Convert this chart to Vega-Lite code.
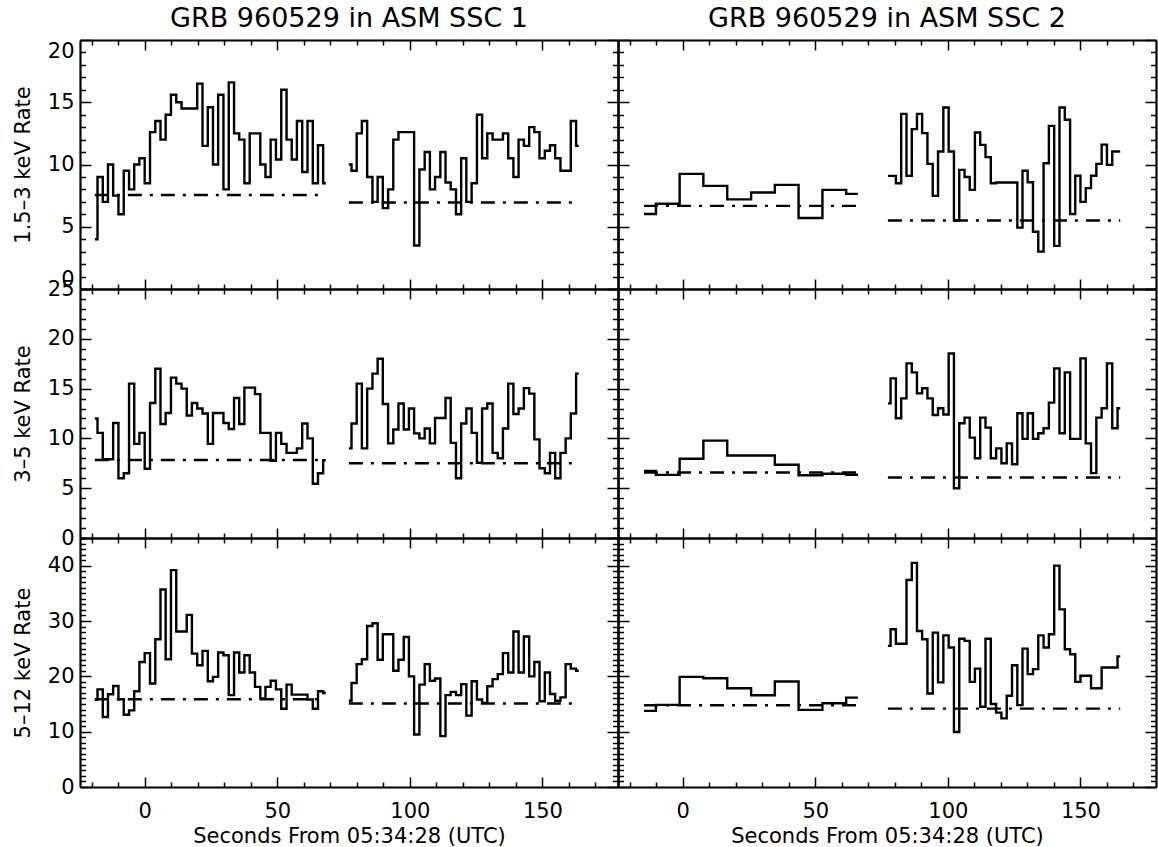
{
"$schema": "https://vega.github.io/schema/vega-lite/v6.json",
"padding": {"left": 11, "top": 5, "right": 2, "bottom": 2},
"background": "white",
"columns": 2,
"spacing": 0,
"bounds": "flush",
"config": {
 "view": {"stroke": null},
 "font": "DejaVu Sans",
 "axis": {"grid": false, "domainColor": "black", "domainWidth": 2.2, "tickColor": "black", "tickWidth": 1.5, "labelFont": "DejaVu Sans", "labelFontSize": 21, "labelColor": "black", "titleFont": "DejaVu Sans", "titleFontSize": 21, "titleFontWeight": "normal", "titleColor": "black", "labelOverlap": false, "labelFlush": false},
 "title": {"font": "DejaVu Sans", "fontSize": 27, "fontWeight": "normal", "color": "black", "offset": 6, "anchor": "middle"},
 "line": {"color": "black", "strokeWidth": 2.4}
},
"datasets": {
"L1": [{"s":1,"t":-18.8,"v":4},{"s":1,"t":-16.8,"v":9},{"s":1,"t":-14.8,"v":7},{"s":1,"t":-12.9,"v":10},{"s":1,"t":-10.9,"v":7.5},{"s":1,"t":-8.9,"v":6},{"s":1,"t":-6.9,"v":9.5},{"s":1,"t":-4.9,"v":8},{"s":1,"t":-3,"v":10},{"s":1,"t":-1,"v":10.5},{"s":1,"t":1,"v":8.5},{"s":1,"t":3,"v":12.6},{"s":1,"t":5,"v":13.5},{"s":1,"t":6.9,"v":12},{"s":1,"t":8.9,"v":14},{"s":1,"t":10.9,"v":15.6},{"s":1,"t":12.9,"v":15},{"s":1,"t":14.9,"v":14.5},{"s":1,"t":16.8,"v":14.5},{"s":1,"t":18.8,"v":14.5},{"s":1,"t":20.8,"v":16.5},{"s":1,"t":22.8,"v":11.5},{"s":1,"t":24.8,"v":14.6},{"s":1,"t":26.7,"v":10},{"s":1,"t":28.7,"v":15.6},{"s":1,"t":30.7,"v":8},{"s":1,"t":32.7,"v":16.6},{"s":1,"t":34.7,"v":12.5},{"s":1,"t":36.6,"v":12},{"s":1,"t":38.6,"v":8.5},{"s":1,"t":40.6,"v":12.5},{"s":1,"t":42.6,"v":12.5},{"s":1,"t":44.6,"v":10},{"s":1,"t":46.5,"v":9},{"s":1,"t":48.5,"v":12},{"s":1,"t":50.5,"v":10.4},{"s":1,"t":52.5,"v":16},{"s":1,"t":54.5,"v":12},{"s":1,"t":56.4,"v":10.4},{"s":1,"t":58.4,"v":13.5},{"s":1,"t":60.4,"v":9.4},{"s":1,"t":62.4,"v":13.5},{"s":1,"t":64.4,"v":8.5},{"s":1,"t":66.3,"v":11.55},{"s":1,"t":68.3,"v":8.5},
{"s":2,"t":77,"v":10},{"s":2,"t":79,"v":9.5},{"s":2,"t":80.9,"v":12.5},{"s":2,"t":82.9,"v":13.5},{"s":2,"t":84.9,"v":9},{"s":2,"t":86.9,"v":7},{"s":2,"t":88.8,"v":9},{"s":2,"t":90.8,"v":6.5},{"s":2,"t":92.8,"v":8},{"s":2,"t":94.7,"v":12},{"s":2,"t":96.7,"v":12.6},{"s":2,"t":98.7,"v":12.6},{"s":2,"t":100.6,"v":12.6},{"s":2,"t":102.6,"v":3.5},{"s":2,"t":104.6,"v":9.6},{"s":2,"t":106.6,"v":11},{"s":2,"t":108.5,"v":8},{"s":2,"t":110.5,"v":9},{"s":2,"t":112.5,"v":11},{"s":2,"t":114.4,"v":8.55},{"s":2,"t":116.4,"v":8},{"s":2,"t":118.4,"v":6},{"s":2,"t":120.3,"v":10.5},{"s":2,"t":122.3,"v":7},{"s":2,"t":124.3,"v":8.5},{"s":2,"t":126.3,"v":14},{"s":2,"t":128.2,"v":10.5},{"s":2,"t":130.2,"v":12.5},{"s":2,"t":132.2,"v":12},{"s":2,"t":134.1,"v":12},{"s":2,"t":136.1,"v":12.5},{"s":2,"t":138.1,"v":10.5},{"s":2,"t":140,"v":9},{"s":2,"t":142,"v":12},{"s":2,"t":144,"v":11.5},{"s":2,"t":146,"v":13},{"s":2,"t":147.9,"v":12.6},{"s":2,"t":149.9,"v":10.5},{"s":2,"t":151.9,"v":11.1},{"s":2,"t":153.8,"v":11.55},{"s":2,"t":155.8,"v":10.5},{"s":2,"t":157.8,"v":9.5},{"s":2,"t":159.7,"v":9.5},{"s":2,"t":161.7,"v":13.5},{"s":2,"t":163.7,"v":11.5}],
"L2": [{"s":1,"t":-18.8,"v":12},{"s":1,"t":-16.8,"v":10.55},{"s":1,"t":-14.8,"v":7.9},{"s":1,"t":-12.9,"v":7.9},{"s":1,"t":-10.9,"v":11.55},{"s":1,"t":-8.9,"v":6},{"s":1,"t":-6.9,"v":6.5},{"s":1,"t":-4.9,"v":15.5},{"s":1,"t":-3,"v":9.45},{"s":1,"t":-1,"v":10.55},{"s":1,"t":1,"v":6.95},{"s":1,"t":3,"v":13.55},{"s":1,"t":5,"v":17},{"s":1,"t":6.9,"v":11.45},{"s":1,"t":8.9,"v":12.55},{"s":1,"t":10.9,"v":16.1},{"s":1,"t":12.9,"v":15.5},{"s":1,"t":14.9,"v":15},{"s":1,"t":16.8,"v":12.3},{"s":1,"t":18.8,"v":13.55},{"s":1,"t":20.8,"v":13},{"s":1,"t":22.8,"v":12.5},{"s":1,"t":24.8,"v":9.45},{"s":1,"t":26.7,"v":12.55},{"s":1,"t":28.7,"v":12.55},{"s":1,"t":30.7,"v":11.55},{"s":1,"t":32.7,"v":10.95},{"s":1,"t":34.7,"v":14.05},{"s":1,"t":36.6,"v":11.45},{"s":1,"t":38.6,"v":15.1},{"s":1,"t":40.6,"v":15.1},{"s":1,"t":42.6,"v":14.45},{"s":1,"t":44.6,"v":10.55},{"s":1,"t":46.5,"v":10.55},{"s":1,"t":48.5,"v":7.75},{"s":1,"t":50.5,"v":10.55},{"s":1,"t":52.5,"v":9.45},{"s":1,"t":54.5,"v":8.55},{"s":1,"t":56.4,"v":8.55},{"s":1,"t":58.4,"v":9},{"s":1,"t":60.4,"v":11.5},{"s":1,"t":62.4,"v":10},{"s":1,"t":64.4,"v":5.45},{"s":1,"t":66.3,"v":6.5},{"s":1,"t":68.3,"v":7.8},
{"s":2,"t":77,"v":9},{"s":2,"t":79,"v":11.5},{"s":2,"t":80.9,"v":15.5},{"s":2,"t":82.9,"v":9},{"s":2,"t":84.9,"v":15},{"s":2,"t":86.9,"v":16.5},{"s":2,"t":88.8,"v":18},{"s":2,"t":90.8,"v":13.45},{"s":2,"t":92.8,"v":9.5},{"s":2,"t":94.7,"v":10.9},{"s":2,"t":96.7,"v":13.5},{"s":2,"t":98.7,"v":10.9},{"s":2,"t":100.6,"v":13},{"s":2,"t":102.6,"v":10.5},{"s":2,"t":104.6,"v":10},{"s":2,"t":106.6,"v":11},{"s":2,"t":108.5,"v":9.5},{"s":2,"t":110.5,"v":12.05},{"s":2,"t":112.5,"v":12.05},{"s":2,"t":114.4,"v":14.05},{"s":2,"t":116.4,"v":9.55},{"s":2,"t":118.4,"v":6},{"s":2,"t":120.3,"v":11.5},{"s":2,"t":122.3,"v":13},{"s":2,"t":124.3,"v":10.55},{"s":2,"t":126.3,"v":7.55},{"s":2,"t":128.2,"v":13},{"s":2,"t":130.2,"v":13.5},{"s":2,"t":132.2,"v":8.55},{"s":2,"t":134.1,"v":8},{"s":2,"t":136.1,"v":11},{"s":2,"t":138.1,"v":15.5},{"s":2,"t":140,"v":12.45},{"s":2,"t":142,"v":13},{"s":2,"t":144,"v":15.05},{"s":2,"t":146,"v":14.5},{"s":2,"t":147.9,"v":9.9},{"s":2,"t":149.9,"v":7},{"s":2,"t":151.9,"v":6.5},{"s":2,"t":153.8,"v":8.55},{"s":2,"t":155.8,"v":6},{"s":2,"t":157.8,"v":8.55},{"s":2,"t":159.7,"v":10},{"s":2,"t":161.7,"v":12.5},{"s":2,"t":163.7,"v":16.5}],
"L3": [{"s":1,"t":-18.8,"v":15.8},{"s":1,"t":-16.8,"v":17.65},{"s":1,"t":-14.8,"v":12.65},{"s":1,"t":-12.9,"v":16.75},{"s":1,"t":-10.9,"v":18.25},{"s":1,"t":-8.9,"v":15.85},{"s":1,"t":-6.9,"v":13.05},{"s":1,"t":-4.9,"v":13.85},{"s":1,"t":-3,"v":17.3},{"s":1,"t":-1,"v":22.6},{"s":1,"t":1,"v":24.2},{"s":1,"t":3,"v":18.7},{"s":1,"t":5,"v":26.7},{"s":1,"t":6.9,"v":35.7},{"s":1,"t":8.9,"v":23.1},{"s":1,"t":10.9,"v":39.2},{"s":1,"t":12.9,"v":28.1},{"s":1,"t":14.9,"v":28.1},{"s":1,"t":16.8,"v":31.1},{"s":1,"t":18.8,"v":24.1},{"s":1,"t":20.8,"v":22},{"s":1,"t":22.8,"v":24.6},{"s":1,"t":24.8,"v":19.1},{"s":1,"t":26.7,"v":19.9},{"s":1,"t":28.7,"v":24.3},{"s":1,"t":30.7,"v":23.8},{"s":1,"t":32.7,"v":16.6},{"s":1,"t":34.7,"v":24.3},{"s":1,"t":36.6,"v":20.7},{"s":1,"t":38.6,"v":23.8},{"s":1,"t":40.6,"v":20.7},{"s":1,"t":42.6,"v":18.1},{"s":1,"t":44.6,"v":16},{"s":1,"t":46.5,"v":18.1},{"s":1,"t":48.5,"v":19.2},{"s":1,"t":50.5,"v":17.65},{"s":1,"t":52.5,"v":14.15},{"s":1,"t":54.5,"v":18.5},{"s":1,"t":56.4,"v":16.7},{"s":1,"t":58.4,"v":16.7},{"s":1,"t":60.4,"v":16.7},{"s":1,"t":62.4,"v":15.8},{"s":1,"t":64.4,"v":14.15},{"s":1,"t":66.3,"v":17.3},{"s":1,"t":68.3,"v":17},
{"s":2,"t":77,"v":15.6},{"s":2,"t":79,"v":18.8},{"s":2,"t":80.9,"v":22.2},{"s":2,"t":82.9,"v":23.1},{"s":2,"t":84.9,"v":29.1},{"s":2,"t":86.9,"v":29.6},{"s":2,"t":88.8,"v":23},{"s":2,"t":90.8,"v":27.6},{"s":2,"t":92.8,"v":27.6},{"s":2,"t":94.7,"v":21},{"s":2,"t":96.7,"v":23},{"s":2,"t":98.7,"v":27.1},{"s":2,"t":100.6,"v":20},{"s":2,"t":102.6,"v":9.5},{"s":2,"t":104.6,"v":18.5},{"s":2,"t":106.6,"v":22.2},{"s":2,"t":108.5,"v":19.2},{"s":2,"t":110.5,"v":19.6},{"s":2,"t":112.5,"v":9.2},{"s":2,"t":114.4,"v":16.6},{"s":2,"t":116.4,"v":17.2},{"s":2,"t":118.4,"v":16.6},{"s":2,"t":120.3,"v":18.6},{"s":2,"t":122.3,"v":12.9},{"s":2,"t":124.3,"v":19.1},{"s":2,"t":126.3,"v":15.8},{"s":2,"t":128.2,"v":15.2},{"s":2,"t":130.2,"v":18.2},{"s":2,"t":132.2,"v":19.5},{"s":2,"t":134.1,"v":20.4},{"s":2,"t":136.1,"v":24.2},{"s":2,"t":138.1,"v":20.7},{"s":2,"t":140,"v":28.1},{"s":2,"t":142,"v":20.7},{"s":2,"t":144,"v":27.2},{"s":2,"t":146,"v":20},{"s":2,"t":147.9,"v":22.6},{"s":2,"t":149.9,"v":15.5},{"s":2,"t":151.9,"v":20.7},{"s":2,"t":153.8,"v":16.8},{"s":2,"t":155.8,"v":15.6},{"s":2,"t":157.8,"v":16.2},{"s":2,"t":159.7,"v":22.2},{"s":2,"t":161.7,"v":21.4},{"s":2,"t":163.7,"v":21}],
"R1": [{"s":1,"t":-14.6,"v":6.03},{"s":1,"t":-5.6,"v":6.85},{"s":1,"t":3.3,"v":9.25},{"s":1,"t":12.3,"v":8.28},{"s":1,"t":21.3,"v":7.2},{"s":1,"t":30.3,"v":7.75},{"s":1,"t":39.2,"v":8.36},{"s":1,"t":48.2,"v":5.7},{"s":1,"t":57.2,"v":7.96},{"s":1,"t":66.1,"v":7.64},
{"s":2,"t":77.4,"v":9.09},{"s":2,"t":79.4,"v":9.09},{"s":2,"t":81.4,"v":8.5},{"s":2,"t":83.4,"v":14.07},{"s":2,"t":85.4,"v":9.09},{"s":2,"t":87.4,"v":12.84},{"s":2,"t":89.3,"v":14.07},{"s":2,"t":91.3,"v":12.52},{"s":2,"t":93.3,"v":10.05},{"s":2,"t":95.3,"v":7.48},{"s":2,"t":97.3,"v":11.05},{"s":2,"t":99.3,"v":14.58},{"s":2,"t":101.3,"v":11.05},{"s":2,"t":103.3,"v":5.5},{"s":2,"t":105.3,"v":9.57},{"s":2,"t":107.3,"v":9},{"s":2,"t":109.2,"v":7.96},{"s":2,"t":111.2,"v":12.57},{"s":2,"t":113.2,"v":11.58},{"s":2,"t":115.2,"v":10.59},{"s":2,"t":117.2,"v":8.5},{"s":2,"t":119.2,"v":8.55},{"s":2,"t":121.2,"v":8.55},{"s":2,"t":123.2,"v":8.55},{"s":2,"t":125.2,"v":8.55},{"s":2,"t":127.2,"v":4.93},{"s":2,"t":129.1,"v":9.5},{"s":2,"t":131.1,"v":8.58},{"s":2,"t":133.1,"v":4.6},{"s":2,"t":135.1,"v":3},{"s":2,"t":137.1,"v":10.1},{"s":2,"t":139.1,"v":13.1},{"s":2,"t":141.1,"v":3.46},{"s":2,"t":143.1,"v":14.58},{"s":2,"t":145.1,"v":13.6},{"s":2,"t":147.1,"v":6.03},{"s":2,"t":149,"v":9.1},{"s":2,"t":151,"v":7},{"s":2,"t":153,"v":8.1},{"s":2,"t":155,"v":9.1},{"s":2,"t":157,"v":10.05},{"s":2,"t":159,"v":11.6},{"s":2,"t":161,"v":9.97},{"s":2,"t":163,"v":11.05},{"s":2,"t":165,"v":11.05}],
"R2": [{"s":1,"t":-14.6,"v":6.74},{"s":1,"t":-5.6,"v":6.34},{"s":1,"t":3.3,"v":7.95},{"s":1,"t":12.3,"v":9.78},{"s":1,"t":21.3,"v":8.28},{"s":1,"t":30.3,"v":8.28},{"s":1,"t":39.2,"v":7.35},{"s":1,"t":48.2,"v":6.3},{"s":1,"t":57.2,"v":6.45},{"s":1,"t":66.1,"v":6.35},
{"s":2,"t":77.4,"v":13.52},{"s":2,"t":79.4,"v":16.03},{"s":2,"t":81.4,"v":12.02},{"s":2,"t":83.4,"v":14.02},{"s":2,"t":85.4,"v":17.53},{"s":2,"t":87.4,"v":16.63},{"s":2,"t":89.3,"v":14.52},{"s":2,"t":91.3,"v":15.03},{"s":2,"t":93.3,"v":14.02},{"s":2,"t":95.3,"v":12.35},{"s":2,"t":97.3,"v":13.02},{"s":2,"t":99.3,"v":12.4},{"s":2,"t":101.3,"v":18.53},{"s":2,"t":103.3,"v":5},{"s":2,"t":105.3,"v":11.52},{"s":2,"t":107.3,"v":12.09},{"s":2,"t":109.2,"v":10.08},{"s":2,"t":111.2,"v":8},{"s":2,"t":113.2,"v":12.09},{"s":2,"t":115.2,"v":11.08},{"s":2,"t":117.2,"v":8},{"s":2,"t":119.2,"v":9},{"s":2,"t":121.2,"v":7.5},{"s":2,"t":123.2,"v":9.5},{"s":2,"t":125.2,"v":7.4},{"s":2,"t":127.2,"v":12.52},{"s":2,"t":129.1,"v":9.95},{"s":2,"t":131.1,"v":12.52},{"s":2,"t":133.1,"v":9.95},{"s":2,"t":135.1,"v":10.52},{"s":2,"t":137.1,"v":11.02},{"s":2,"t":139.1,"v":13.59},{"s":2,"t":141.1,"v":17.03},{"s":2,"t":143.1,"v":10.52},{"s":2,"t":145.1,"v":16.63},{"s":2,"t":147.1,"v":9.95},{"s":2,"t":149,"v":9.95},{"s":2,"t":151,"v":18.03},{"s":2,"t":153,"v":9.5},{"s":2,"t":155,"v":6.51},{"s":2,"t":157,"v":12.09},{"s":2,"t":159,"v":13.02},{"s":2,"t":161,"v":17.53},{"s":2,"t":163,"v":11.02},{"s":2,"t":165,"v":13.02}],
"R3": [{"s":1,"t":-14.6,"v":13.75},{"s":1,"t":-5.6,"v":14.84},{"s":1,"t":3.3,"v":19.9},{"s":1,"t":12.3,"v":19.66},{"s":1,"t":21.3,"v":17.85},{"s":1,"t":30.3,"v":16.59},{"s":1,"t":39.2,"v":19.06},{"s":1,"t":48.2,"v":13.93},{"s":1,"t":57.2,"v":15.14},{"s":1,"t":66.1,"v":16.16},
{"s":2,"t":77.4,"v":25.5},{"s":2,"t":79.4,"v":28.5},{"s":2,"t":81.4,"v":25.9},{"s":2,"t":83.4,"v":25.9},{"s":2,"t":85.4,"v":37.4},{"s":2,"t":87.4,"v":40.5},{"s":2,"t":89.3,"v":28.2},{"s":2,"t":91.3,"v":26.7},{"s":2,"t":93.3,"v":16.9},{"s":2,"t":95.3,"v":27.9},{"s":2,"t":97.3,"v":18.9},{"s":2,"t":99.3,"v":27.4},{"s":2,"t":101.3,"v":25.2},{"s":2,"t":103.3,"v":9.95},{"s":2,"t":105.3,"v":26.8},{"s":2,"t":107.3,"v":26.4},{"s":2,"t":109.2,"v":19},{"s":2,"t":111.2,"v":21.4},{"s":2,"t":113.2,"v":14.5},{"s":2,"t":115.2,"v":26.8},{"s":2,"t":117.2,"v":15},{"s":2,"t":119.2,"v":13.45},{"s":2,"t":121.2,"v":12.4},{"s":2,"t":123.2,"v":16.5},{"s":2,"t":125.2,"v":22},{"s":2,"t":127.2,"v":14.8},{"s":2,"t":129.1,"v":25},{"s":2,"t":131.1,"v":20.4},{"s":2,"t":133.1,"v":21.3},{"s":2,"t":135.1,"v":27.4},{"s":2,"t":137.1,"v":25.2},{"s":2,"t":139.1,"v":27.6},{"s":2,"t":141.1,"v":40},{"s":2,"t":143.1,"v":32.1},{"s":2,"t":145.1,"v":24.9},{"s":2,"t":147.1,"v":24},{"s":2,"t":149,"v":19},{"s":2,"t":151,"v":20.1},{"s":2,"t":153,"v":20.1},{"s":2,"t":155,"v":17.85},{"s":2,"t":157,"v":17.85},{"s":2,"t":159,"v":21.6},{"s":2,"t":161,"v":21.6},{"s":2,"t":163,"v":21.6},{"s":2,"t":165,"v":23.6}],
"L1b": [{"s":1,"t":-18.8,"v":7.55},{"s":1,"t":68.3,"v":7.55},{"s":2,"t":77,"v":6.95},{"s":2,"t":163.7,"v":6.95}],
"L2b": [{"s":1,"t":-18.8,"v":7.83},{"s":1,"t":68.3,"v":7.83},{"s":2,"t":77,"v":7.5},{"s":2,"t":163.7,"v":7.5}],
"L3b": [{"s":1,"t":-18.8,"v":15.85},{"s":1,"t":68.3,"v":15.85},{"s":2,"t":77,"v":15.1},{"s":2,"t":163.7,"v":15.1}],
"R1b": [{"s":1,"t":-14.6,"v":6.68},{"s":1,"t":66.1,"v":6.68},{"s":2,"t":77.4,"v":5.5},{"s":2,"t":165,"v":5.5}],
"R2b": [{"s":1,"t":-14.6,"v":6.58},{"s":1,"t":66.1,"v":6.58},{"s":2,"t":77.4,"v":6.08},{"s":2,"t":165,"v":6.08}],
"R3b": [{"s":1,"t":-14.6,"v":14.78},{"s":1,"t":66.1,"v":14.78},{"s":2,"t":77.4,"v":14.17},{"s":2,"t":165,"v":14.17}]
},
"concat": [
{"width": 538, "height": 249, "title": {"text": "GRB 960529 in ASM SSC 1"},
 "layer": [
  {"data": {"name": "L1"}, "mark": {"type": "line", "interpolate": "step"},
   "encoding": {
    "x": {"field": "t", "type": "quantitative", "scale": {"domain": [-24.4, 178.5], "nice": false, "zero": false}, "axis": {"orient": "bottom", "values": [-20,-10,0,10,20,30,40,50,60,70,80,90,100,110,120,130,140,150,160,170], "labels": false, "title": null, "tickSize": {"condition": {"test": "datum.value % 50 === 0", "value": -10}, "value": -5}}},
    "y": {"field": "v", "type": "quantitative", "scale": {"domain": [0, 20], "nice": false, "zero": false}, "axis": {"orient": "left", "values": [0,1,2,3,4,5,6,7,8,9,10,11,12,13,14,15,16,17,18,19,20], "labelExpr": "datum.value % 5 === 0 ? datum.label : ''", "labelPadding": 17, "labelFlush": true, "title": "1.5–3 keV Rate", "titleX": -57, "titleAngle": -90, "titleBaseline": "middle", "titleAlign": "center", "tickSize": {"condition": {"test": "datum.value % 5 === 0", "value": -11}, "value": -5.5}}},
    "detail": {"field": "s"}}},
  {"data": {"name": "L1b"}, "mark": {"type": "line", "strokeDash": [14, 8, 3, 8]},
   "encoding": {
    "x": {"field": "t", "type": "quantitative", "scale": {"domain": [-24.4, 178.5], "nice": false, "zero": false}, "axis": {"orient": "top", "values": [-20,-10,0,10,20,30,40,50,60,70,80,90,100,110,120,130,140,150,160,170], "labels": false, "title": null, "tickSize": {"condition": {"test": "datum.value % 50 === 0", "value": -10}, "value": -5}}},
    "y": {"field": "v", "type": "quantitative", "scale": {"domain": [0, 20], "nice": false, "zero": false}, "axis": {"orient": "right", "values": [0,1,2,3,4,5,6,7,8,9,10,11,12,13,14,15,16,17,18,19,20], "labels": false, "title": null, "tickSize": {"condition": {"test": "datum.value % 5 === 0", "value": -11}, "value": -5.5}}},
    "detail": {"field": "s"}}}
 ],
 "resolve": {"axis": {"x": "independent", "y": "independent"}}},
{"width": 538, "height": 249, "title": {"text": "GRB 960529 in ASM SSC 2"},
 "layer": [
  {"data": {"name": "R1"}, "mark": {"type": "line", "interpolate": "step"},
   "encoding": {
    "x": {"field": "t", "type": "quantitative", "scale": {"domain": [-24.4, 178.5], "nice": false, "zero": false}, "axis": {"orient": "bottom", "values": [-20,-10,0,10,20,30,40,50,60,70,80,90,100,110,120,130,140,150,160,170], "labels": false, "title": null, "tickSize": {"condition": {"test": "datum.value % 50 === 0", "value": -10}, "value": -5}}},
    "y": {"field": "v", "type": "quantitative", "scale": {"domain": [0, 20], "nice": false, "zero": false}, "axis": {"orient": "left", "values": [0,1,2,3,4,5,6,7,8,9,10,11,12,13,14,15,16,17,18,19,20], "labels": false, "title": null, "tickSize": {"condition": {"test": "datum.value % 5 === 0", "value": -11}, "value": -5.5}}},
    "detail": {"field": "s"}}},
  {"data": {"name": "R1b"}, "mark": {"type": "line", "strokeDash": [14, 8, 3, 8]},
   "encoding": {
    "x": {"field": "t", "type": "quantitative", "scale": {"domain": [-24.4, 178.5], "nice": false, "zero": false}, "axis": {"orient": "top", "values": [-20,-10,0,10,20,30,40,50,60,70,80,90,100,110,120,130,140,150,160,170], "labels": false, "title": null, "tickSize": {"condition": {"test": "datum.value % 50 === 0", "value": -10}, "value": -5}}},
    "y": {"field": "v", "type": "quantitative", "scale": {"domain": [0, 20], "nice": false, "zero": false}, "axis": {"orient": "right", "values": [0,1,2,3,4,5,6,7,8,9,10,11,12,13,14,15,16,17,18,19,20], "labels": false, "title": null, "tickSize": {"condition": {"test": "datum.value % 5 === 0", "value": -11}, "value": -5.5}}},
    "detail": {"field": "s"}}}
 ],
 "resolve": {"axis": {"x": "independent", "y": "independent"}}},
{"width": 538, "height": 249,
 "layer": [
  {"data": {"name": "L2"}, "mark": {"type": "line", "interpolate": "step"},
   "encoding": {
    "x": {"field": "t", "type": "quantitative", "scale": {"domain": [-24.4, 178.5], "nice": false, "zero": false}, "axis": {"orient": "bottom", "values": [-20,-10,0,10,20,30,40,50,60,70,80,90,100,110,120,130,140,150,160,170], "labels": false, "title": null, "tickSize": {"condition": {"test": "datum.value % 50 === 0", "value": -10}, "value": -5}}},
    "y": {"field": "v", "type": "quantitative", "scale": {"domain": [0, 25], "nice": false, "zero": false}, "axis": {"orient": "left", "values": [0,1,2,3,4,5,6,7,8,9,10,11,12,13,14,15,16,17,18,19,20,21,22,23,24,25], "labelExpr": "datum.value % 5 === 0 ? datum.label : ''", "labelPadding": 17, "title": "3–5 keV Rate", "titleX": -57, "titleAngle": -90, "titleBaseline": "middle", "titleAlign": "center", "tickSize": {"condition": {"test": "datum.value % 5 === 0", "value": -11}, "value": -5.5}}},
    "detail": {"field": "s"}}},
  {"data": {"name": "L2b"}, "mark": {"type": "line", "strokeDash": [14, 8, 3, 8]},
   "encoding": {
    "x": {"field": "t", "type": "quantitative", "scale": {"domain": [-24.4, 178.5], "nice": false, "zero": false}, "axis": {"orient": "top", "values": [-20,-10,0,10,20,30,40,50,60,70,80,90,100,110,120,130,140,150,160,170], "labels": false, "title": null, "tickSize": {"condition": {"test": "datum.value % 50 === 0", "value": -10}, "value": -5}}},
    "y": {"field": "v", "type": "quantitative", "scale": {"domain": [0, 25], "nice": false, "zero": false}, "axis": {"orient": "right", "values": [0,1,2,3,4,5,6,7,8,9,10,11,12,13,14,15,16,17,18,19,20,21,22,23,24,25], "labels": false, "title": null, "tickSize": {"condition": {"test": "datum.value % 5 === 0", "value": -11}, "value": -5.5}}},
    "detail": {"field": "s"}}}
 ],
 "resolve": {"axis": {"x": "independent", "y": "independent"}}},
{"width": 538, "height": 249,
 "layer": [
  {"data": {"name": "R2"}, "mark": {"type": "line", "interpolate": "step"},
   "encoding": {
    "x": {"field": "t", "type": "quantitative", "scale": {"domain": [-24.4, 178.5], "nice": false, "zero": false}, "axis": {"orient": "bottom", "values": [-20,-10,0,10,20,30,40,50,60,70,80,90,100,110,120,130,140,150,160,170], "labels": false, "title": null, "tickSize": {"condition": {"test": "datum.value % 50 === 0", "value": -10}, "value": -5}}},
    "y": {"field": "v", "type": "quantitative", "scale": {"domain": [0, 25], "nice": false, "zero": false}, "axis": {"orient": "left", "values": [0,1,2,3,4,5,6,7,8,9,10,11,12,13,14,15,16,17,18,19,20,21,22,23,24,25], "labels": false, "title": null, "tickSize": {"condition": {"test": "datum.value % 5 === 0", "value": -11}, "value": -5.5}}},
    "detail": {"field": "s"}}},
  {"data": {"name": "R2b"}, "mark": {"type": "line", "strokeDash": [14, 8, 3, 8]},
   "encoding": {
    "x": {"field": "t", "type": "quantitative", "scale": {"domain": [-24.4, 178.5], "nice": false, "zero": false}, "axis": {"orient": "top", "values": [-20,-10,0,10,20,30,40,50,60,70,80,90,100,110,120,130,140,150,160,170], "labels": false, "title": null, "tickSize": {"condition": {"test": "datum.value % 50 === 0", "value": -10}, "value": -5}}},
    "y": {"field": "v", "type": "quantitative", "scale": {"domain": [0, 25], "nice": false, "zero": false}, "axis": {"orient": "right", "values": [0,1,2,3,4,5,6,7,8,9,10,11,12,13,14,15,16,17,18,19,20,21,22,23,24,25], "labels": false, "title": null, "tickSize": {"condition": {"test": "datum.value % 5 === 0", "value": -11}, "value": -5.5}}},
    "detail": {"field": "s"}}}
 ],
 "resolve": {"axis": {"x": "independent", "y": "independent"}}},
{"width": 538, "height": 249,
 "layer": [
  {"data": {"name": "L3"}, "mark": {"type": "line", "interpolate": "step"},
   "encoding": {
    "x": {"field": "t", "type": "quantitative", "scale": {"domain": [-24.4, 178.5], "nice": false, "zero": false}, "axis": {"orient": "bottom", "values": [-20,-10,0,10,20,30,40,50,60,70,80,90,100,110,120,130,140,150,160,170], "labelExpr": "datum.value % 50 === 0 ? datum.label : ''", "labelPadding": 40, "labelBaseline": "alphabetic", "title": "Seconds From 05:34:28 (UTC)", "titleY": 55, "titleBaseline": "alphabetic", "tickSize": {"condition": {"test": "datum.value % 50 === 0", "value": -10}, "value": -5}}},
    "y": {"field": "v", "type": "quantitative", "scale": {"domain": [0, 45], "nice": false, "zero": false}, "axis": {"orient": "left", "values": [0,1,2,3,4,5,6,7,8,9,10,11,12,13,14,15,16,17,18,19,20,21,22,23,24,25,26,27,28,29,30,31,32,33,34,35,36,37,38,39,40,41,42,43,44,45], "labelExpr": "datum.value % 10 === 0 ? datum.label : ''", "labelPadding": 17, "title": "5–12 keV Rate", "titleX": -57, "titleAngle": -90, "titleBaseline": "middle", "titleAlign": "center", "tickSize": {"condition": {"test": "datum.value % 10 === 0", "value": -11}, "value": -5.5}}},
    "detail": {"field": "s"}}},
  {"data": {"name": "L3b"}, "mark": {"type": "line", "strokeDash": [14, 8, 3, 8]},
   "encoding": {
    "x": {"field": "t", "type": "quantitative", "scale": {"domain": [-24.4, 178.5], "nice": false, "zero": false}, "axis": {"orient": "top", "values": [-20,-10,0,10,20,30,40,50,60,70,80,90,100,110,120,130,140,150,160,170], "labels": false, "title": null, "tickSize": {"condition": {"test": "datum.value % 50 === 0", "value": -10}, "value": -5}}},
    "y": {"field": "v", "type": "quantitative", "scale": {"domain": [0, 45], "nice": false, "zero": false}, "axis": {"orient": "right", "values": [0,1,2,3,4,5,6,7,8,9,10,11,12,13,14,15,16,17,18,19,20,21,22,23,24,25,26,27,28,29,30,31,32,33,34,35,36,37,38,39,40,41,42,43,44,45], "labels": false, "title": null, "tickSize": {"condition": {"test": "datum.value % 10 === 0", "value": -11}, "value": -5.5}}},
    "detail": {"field": "s"}}}
 ],
 "resolve": {"axis": {"x": "independent", "y": "independent"}}},
{"width": 538, "height": 249,
 "layer": [
  {"data": {"name": "R3"}, "mark": {"type": "line", "interpolate": "step"},
   "encoding": {
    "x": {"field": "t", "type": "quantitative", "scale": {"domain": [-24.4, 178.5], "nice": false, "zero": false}, "axis": {"orient": "bottom", "values": [-20,-10,0,10,20,30,40,50,60,70,80,90,100,110,120,130,140,150,160,170], "labelExpr": "datum.value % 50 === 0 ? datum.label : ''", "labelPadding": 40, "labelBaseline": "alphabetic", "title": "Seconds From 05:34:28 (UTC)", "titleY": 55, "titleBaseline": "alphabetic", "tickSize": {"condition": {"test": "datum.value % 50 === 0", "value": -10}, "value": -5}}},
    "y": {"field": "v", "type": "quantitative", "scale": {"domain": [0, 45], "nice": false, "zero": false}, "axis": {"orient": "left", "values": [0,1,2,3,4,5,6,7,8,9,10,11,12,13,14,15,16,17,18,19,20,21,22,23,24,25,26,27,28,29,30,31,32,33,34,35,36,37,38,39,40,41,42,43,44,45], "labels": false, "title": null, "tickSize": {"condition": {"test": "datum.value % 10 === 0", "value": -11}, "value": -5.5}}},
    "detail": {"field": "s"}}},
  {"data": {"name": "R3b"}, "mark": {"type": "line", "strokeDash": [14, 8, 3, 8]},
   "encoding": {
    "x": {"field": "t", "type": "quantitative", "scale": {"domain": [-24.4, 178.5], "nice": false, "zero": false}, "axis": {"orient": "top", "values": [-20,-10,0,10,20,30,40,50,60,70,80,90,100,110,120,130,140,150,160,170], "labels": false, "title": null, "tickSize": {"condition": {"test": "datum.value % 50 === 0", "value": -10}, "value": -5}}},
    "y": {"field": "v", "type": "quantitative", "scale": {"domain": [0, 45], "nice": false, "zero": false}, "axis": {"orient": "right", "values": [0,1,2,3,4,5,6,7,8,9,10,11,12,13,14,15,16,17,18,19,20,21,22,23,24,25,26,27,28,29,30,31,32,33,34,35,36,37,38,39,40,41,42,43,44,45], "labels": false, "title": null, "tickSize": {"condition": {"test": "datum.value % 10 === 0", "value": -11}, "value": -5.5}}},
    "detail": {"field": "s"}}}
 ],
 "resolve": {"axis": {"x": "independent", "y": "independent"}}}
]
}
